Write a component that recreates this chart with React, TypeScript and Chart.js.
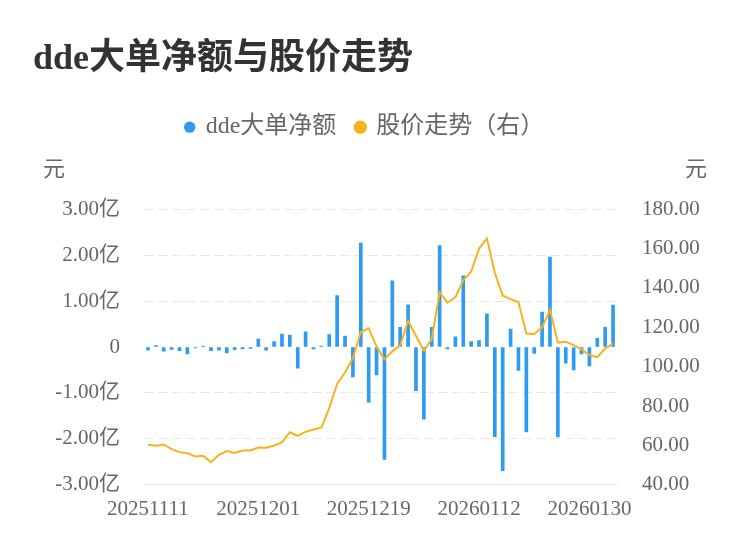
import React, { useEffect, useRef } from "react";
import { Chart, registerables } from "chart.js";

Chart.register(...registerables);

const dates: string[] = [
  "20251111", "20251112", "20251113", "20251114", "20251117", "20251118", "20251119", "20251120", "20251121",
  "20251124", "20251125", "20251126", "20251127", "20251128",
  "20251201", "20251202", "20251203", "20251204", "20251205",
  "20251208", "20251209", "20251210", "20251211", "20251212",
  "20251215", "20251216", "20251217", "20251218", "20251219",
  "20251222", "20251223", "20251224", "20251225", "20251226",
  "20251229", "20251230", "20251231",
  "20260105", "20260106", "20260107", "20260108", "20260109",
  "20260112", "20260113", "20260114", "20260115", "20260116",
  "20260119", "20260120", "20260121", "20260122", "20260123",
  "20260126", "20260127", "20260128", "20260129", "20260130",
  "20260202", "20260203", "20260204",
];

// dde大单净额, unit: 亿元
const ddeNet: number[] = [
  -0.07, 0.03, -0.09, -0.05, -0.08, -0.15, -0.02, 0.02, -0.08, -0.07,
  -0.13, -0.06, -0.04, -0.03, 0.17, -0.07, 0.12, 0.28, 0.26, -0.46,
  0.33, -0.04, 0.02, 0.27, 1.12, 0.24, -0.65, 2.26, -1.2, -0.61,
  -2.45, 1.44, 0.43, 0.92, -0.95, -1.57, 0.43, 2.21, -0.04, 0.22,
  1.55, 0.12, 0.14, 0.72, -1.95, -2.69, 0.39, -0.51, -1.85, -0.14,
  0.76, 1.96, -1.96, -0.35, -0.5, -0.15, -0.41, 0.19, 0.43, 0.91,
];

// 股价, unit: 元
const price: number[] = [
  60.3, 59.8, 60.5, 58.1, 56.6, 56.1, 54.4, 54.7, 51.5, 55.2,
  57.1, 56.2, 57.4, 57.4, 58.9, 58.8, 60.0, 61.5, 66.7, 64.9,
  66.9, 68.1, 69.1, 78.9, 91.2, 97.0, 104.3, 117.6, 119.5, 110.2,
  103.7, 107.8, 110.8, 123.2, 115.7, 108.1, 114.1, 137.7, 132.5, 135.2,
  144.0, 148.2, 160.0, 165.1, 147.7, 136.2, 134.3, 132.8, 116.8, 116.6,
  120.0, 128.8, 112.2, 112.7, 111.0, 108.8, 105.9, 104.8, 109.3, 111.7,
];

const titleText = "dde大单净额与股价走势";
const barLabel = "dde大单净额";
const lineLabel = "股价走势（右）";
const unitLabel = "元";

const BLUE = "#2D9BF0";
const ORANGE = "#F7B21B";
const FONT = "'Liberation Serif', 'Noto Sans CJK SC', serif";

export default function App() {
  const ref = useRef<HTMLCanvasElement | null>(null);

  useEffect(() => {
    if (!ref.current) return;

    const legendSpacer = {
      id: "legendSpacer",
      beforeInit(chart: any) {
        const orig = chart.legend.fit;
        chart.legend.fit = function fit() {
          orig.bind(chart.legend)();
          this.height += 60;
        };
      },
      afterLayout(chart: any) {
        const lg = chart.legend;
        if (lg) {
          lg.left -= 1.5;
          lg.right -= 1.5;
        }
      },
    };

    const unitTitles = {
      id: "unitTitles",
      afterDraw(chart: any) {
        const ctx = chart.ctx;
        const area = chart.chartArea;
        ctx.save();
        ctx.font = `22px ${FONT}`;
        ctx.fillStyle = "#666";
        ctx.textAlign = "center";
        ctx.textBaseline = "middle";
        ctx.fillText(unitLabel, area.left - 90, area.top - 39);
        ctx.fillText(unitLabel, area.right + 79, area.top - 39);
        ctx.restore();
      },
    };

    const chart = new Chart(ref.current, {
      type: "bar",
      data: {
        labels: dates,
        datasets: [
          {
            type: "bar",
            label: barLabel,
            data: ddeNet,
            backgroundColor: BLUE,
            borderColor: BLUE,
            barThickness: 3,
            yAxisID: "y",
            order: 1,
          },
          {
            type: "line",
            label: lineLabel,
            data: price,
            borderColor: ORANGE,
            backgroundColor: ORANGE,
            borderWidth: 2,
            pointRadius: 0,
            tension: 0,
            yAxisID: "y1",
            order: 0,
          },
        ] as any,
      },
      options: {
        animation: false,
        responsive: true,
        maintainAspectRatio: false,
        layout: { padding: { left: 33, right: 50, top: 0, bottom: 24 } },
        plugins: {
          title: {
            display: true,
            text: titleText,
            align: "start",
            color: "#333",
            font: { family: FONT, size: 36, weight: "bold" },
            padding: { top: 38, bottom: 14 },
          },
          legend: {
            display: true,
            position: "top",
            labels: {
              usePointStyle: true,
              pointStyle: "circle",
              boxWidth: 8,
              boxHeight: 8,
              padding: 20,
              color: "#666",
              font: { family: FONT, size: 24 },
              sort: (a: any, b: any) => a.datasetIndex - b.datasetIndex,
            },
          },
          tooltip: { enabled: false },
        },
        scales: {
          x: {
            grid: { display: false, drawTicks: false },
            border: { display: true, color: "#eaeaea" },
            ticks: {
              autoSkip: false,
              maxRotation: 0,
              padding: 12,
              color: "#666",
              font: { family: FONT, size: 21 },
              callback: (_v: any, i: number) => (i % 14 === 0 ? dates[i] : ""),
            },
          },
          y: {
            position: "left",
            min: -3,
            max: 3,
            afterFit: (s: any) => {
              s.width = 111;
            },
            grid: {
              drawTicks: false,
              color: (c: any) => (c.tick && c.tick.value === 0 ? "rgba(0,0,0,0)" : "#eaeaea"),
              lineWidth: 1,
            },
            border: { display: false, dash: [10, 4] },
            ticks: {
              stepSize: 1,
              padding: 24,
              color: "#666",
              font: { family: FONT, size: 21 },
              callback: (v: any) => (Number(v) === 0 ? "0" : Number(v).toFixed(2) + "亿"),
            },
          },
          y1: {
            position: "right",
            min: 40,
            max: 180,
            afterFit: (s: any) => {
              s.width = 83;
            },
            grid: { display: false, drawTicks: false },
            border: { display: false },
            ticks: {
              stepSize: 20,
              padding: 25,
              color: "#666",
              font: { family: FONT, size: 21 },
              callback: (v: any) => Number(v).toFixed(2),
            },
          },
        },
      } as any,
      plugins: [legendSpacer, unitTitles],
    });

    return () => chart.destroy();
  }, []);

  return (
    <div style={{ position: "fixed", left: 0, top: 0, width: 750, height: 558, background: "#fff" }}>
      <canvas ref={ref} />
    </div>
  );
}
